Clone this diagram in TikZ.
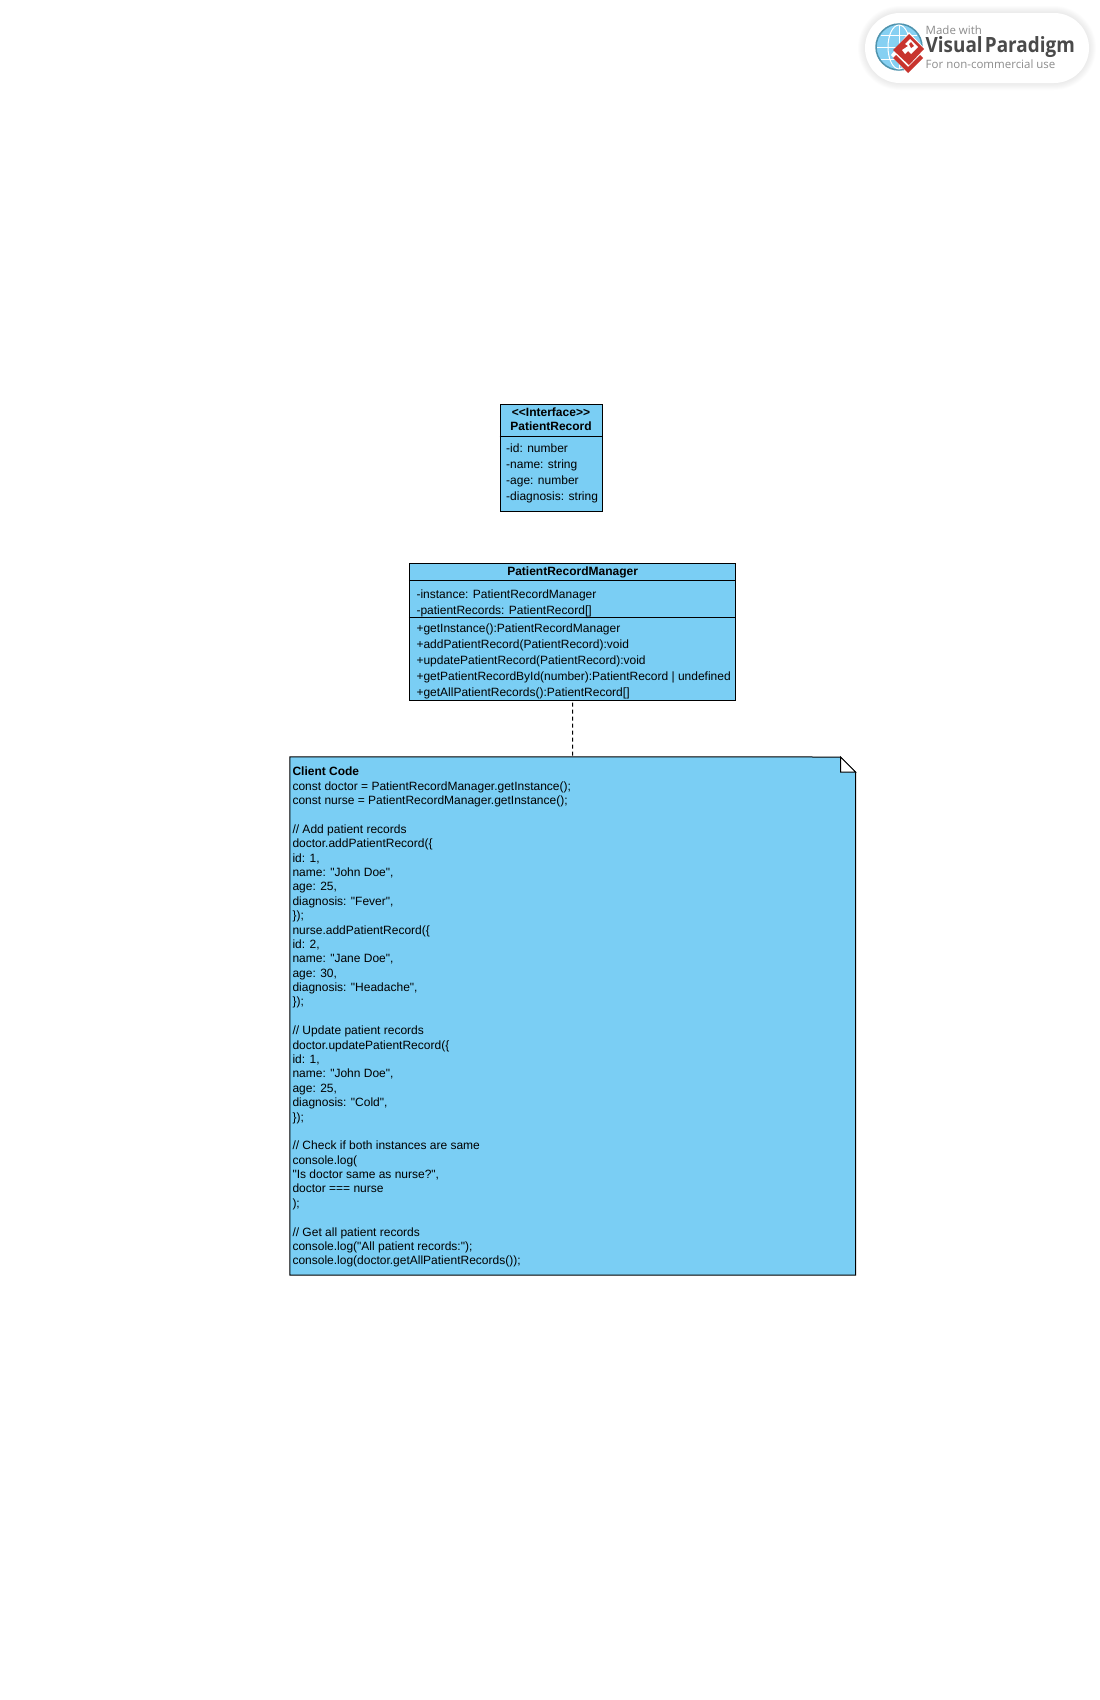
\documentclass[tikz,border=0pt]{standalone}
\usepackage{fontspec}
\setmainfont{Liberation Sans}[Ligatures=TeXOff]
\newfontfamily\logofont{Open Sans}
\definecolor{umlblue}{HTML}{7ACEF4}
\definecolor{logored}{HTML}{C8342E}
\definecolor{logogray}{HTML}{8C8C8C}
\definecolor{logodark}{HTML}{4A4A4A}
\definecolor{logoglobe}{HTML}{4F93AD}
\definecolor{logosky}{HTML}{86D0F2}
\tikzset{
	classbox/.style={draw=black, fill=umlblue, line width=1pt, inner sep=0pt},
	classtext/.style={anchor=north west, align=left, inner sep=0pt, font=\fontsize{12}{16}\selectfont},
	classtitle/.style={align=center, inner sep=0pt, font=\fontsize{12}{14}\selectfont\bfseries},
	codetext/.style={anchor=north west, align=left, inner sep=0pt, font=\fontsize{12}{14.38}\selectfont},
	logotext/.style={anchor=west, inner sep=0pt, text=logogray, font=\logofont\fontsize{11.5}{13}\selectfont}
}
\begin{document}
\begin{tikzpicture}[x=1pt, y=-1pt, line join=miter]
	\useasboundingbox (0,0) rectangle (1100,1700);
	
	% logo
	\foreach \w in {2,4,...,14}
	\draw[gray, opacity=0.025, line width=\w pt, rounded corners=35pt] (865,13) rectangle (1089,83);
	\fill[white, rounded corners=35pt] (865,13) rectangle (1089,83);
	\coordinate (G) at (899,47);
	\filldraw[fill=logosky, draw=logoglobe, line width=1.5pt] (G) circle (23);
	\begin{scope}[white, line width=1pt]
		\draw (G) ellipse (11 and 22);
		\draw (877,47)--(921,47) (899,25)--(899,69) (881,35)--(917,35) (881,59)--(917,59);
	\end{scope}
	\fill[white] (909,32)--(926,50)--(908,74)--(891,55)--cycle;
	\fill[logored] (893,58)--(896,55)--(908,67)--(920,55)--(923,58)--(908,73)--cycle;
	\fill[logored] (909,34)--(924,49)--(909,65)--(893,50)--cycle;
	\fill[white] (905,44)--(910,39)--(918,47)--(911,54)--(908,51)--(905,54)--(902,50)--(908,46)--cycle;
	\fill[logored] (909,44)--(911,42)--(914,46)--(911,48)--cycle;
	\node[logotext] (logotop) at (925.5,30.5) {Made with};
	\node[logotext, text=logodark, font=\logofont\fontsize{21}{24}\selectfont\bfseries, xscale=0.90] (logoname) at (925.5,47) {Visual\hspace{-3pt} Paradigm};
	\node[logotext] (logobottom) at (925.5,64) {For non-commercial use};
	
	% PatientRecord
	\node[classbox, minimum width=102pt, minimum height=106.5pt] (record) at (551,457.75) {};
	\draw[line width=1pt] (record.west |- 0,436.5) -- (record.east |- 0,436.5);
	\node[classtitle] (recordname) at (551,418.8) {<<Interface>>\\PatientRecord};
	\node[classtext] (recordattrs) at (506,443.5) {-id: number\\-name: string\\-age: number\\-diagnosis: string};
	
	% PatientRecordManager
	\node[classbox, minimum width=326.5pt, minimum height=137pt] (manager) at (572.6,632) {};
	\draw[line width=1pt] (manager.west |- 0,580.5) -- (manager.east |- 0,580.5);
	\draw[line width=1pt] (manager.west |- 0,617.5) -- (manager.east |- 0,617.5);
	\node[classtitle] (managername) at (572.6,572) {PatientRecordManager};
	\node[classtext] (managerattrs) at (416.3,590) {-instance: PatientRecordManager\\-patientRecords: PatientRecord[]};
	\node[classtext] (managerops) at (416.3,624) {+getInstance():PatientRecordManager\\+addPatientRecord(PatientRecord):void\\+updatePatientRecord(PatientRecord):void\\+getPatientRecordById(number):PatientRecord | undefined\\+getAllPatientRecords():PatientRecord[]};
	
	% Client Code note
	\node[minimum width=565.5pt, minimum height=518pt, inner sep=0pt] (note) at (572.7,1016) {};
	\coordinate (F) at (840.5,757);
	\coordinate (H) at (855.5,772);
	\filldraw[fill=umlblue, draw=black, line width=1pt] (note.north west)--(F)--(H)--(note.south east)--(note.south west)--cycle;
	\filldraw[fill=white, draw=black, line width=1pt] (F)--(H)--(F |- H)--cycle;
	\node[codetext] (code) at (292.3,767) {\textbf{Client Code}\\
		const doctor = PatientRecordManager.getInstance();\\
		const nurse = PatientRecordManager.getInstance();\\
		\mbox{}\\
		// Add patient records\\
		doctor.addPatientRecord(\{\\
		id: 1,\\
		name: "John Doe",\\
		age: 25,\\
		diagnosis: "Fever",\\
		\});\\
		nurse.addPatientRecord(\{\\
		id: 2,\\
		name: "Jane Doe",\\
		age: 30,\\
		diagnosis: "Headache",\\
		\});\\
		\mbox{}\\
		// Update patient records\\
		doctor.updatePatientRecord(\{\\
		id: 1,\\
		name: "John Doe",\\
		age: 25,\\
		diagnosis: "Cold",\\
		\});\\
		\mbox{}\\
		// Check if both instances are same\\
		console.log(\\
		"Is doctor same as nurse?",\\
		doctor === nurse\\
		);\\
		\mbox{}\\
		// Get all patient records\\
		console.log("All patient records:");\\
		console.log(doctor.getAllPatientRecords());};
	
	\draw[line width=1pt, dash pattern=on 4pt off 3pt, dash phase=5.5pt] (manager.south) -- (note.north);
\end{tikzpicture}
\end{document}
